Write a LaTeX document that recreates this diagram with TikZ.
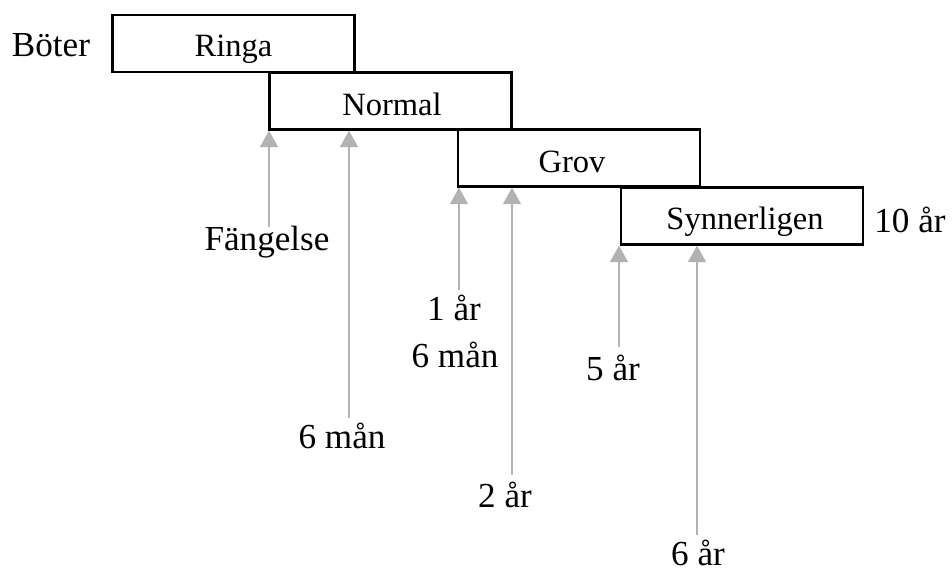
\documentclass[tikz,border=0pt]{standalone}
\usepackage{fontspec}
\setmainfont{Liberation Serif}
\usetikzlibrary{arrows.meta}
\definecolor{arrowgray}{RGB}{178,178,178}
\tikzset{
  box/.style={draw=black, line width=1.4pt, minimum width=4.84cm, minimum height=1.14cm, inner sep=0pt},
  boxtext/.style={anchor=base, inner sep=0pt, font=\fontsize{18.5pt}{21pt}\selectfont},
  lab/.style={anchor=base, inner sep=0pt, font=\fontsize{20pt}{24pt}\selectfont},
  garrow/.style={draw=arrowgray, line width=1.2pt, -{Triangle[width=0.36cm,length=0.33cm]}}
}
\begin{document}
\begin{tikzpicture}[x=0.02cm, y=-0.02cm]
\useasboundingbox (0,0) rectangle (952,571);
% boxes
\node[box] (ringa) at (233.5,43.5) {};
\node[box] (normal) at (390.5,101) {};
\node[box] (grov) at (579,158) {};
\node[box] (synn) at (742,216) {};
\node[boxtext] (tringa) at (233.5,57) {Ringa};
\node[boxtext] (tnormal) at (392,115) {Normal};
\node[boxtext] (tgrov) at (572,172) {Grov};
\node[boxtext] (tsynn) at (745,229) {Synnerligen};
% outer labels
\node[lab] (boter) at (51,57) {Böter};
\node[lab] (tioar) at (910,232) {10 år};
\node[lab] (fang) at (267,250) {Fängelse};
\node[lab] (ettar) at (454,320) {1 år};
\node[lab] (sexman1) at (455,367) {6 mån};
\node[lab] (femar) at (613,380) {5 år};
\node[lab] (sexman2) at (342,448) {6 mån};
\node[lab] (tvaar) at (505,507) {2 år};
\node[lab] (sexar) at (698,565) {6 år};
% arrow tails
\coordinate (a1) at (269,227);
\coordinate (a2) at (349,418);
\coordinate (a3) at (459,290);
\coordinate (a4) at (512,475);
\coordinate (a5) at (619,347);
\coordinate (a6) at (697,535);
\draw[garrow] (a1) -- (a1 |- normal.south);
\draw[garrow] (a2) -- (a2 |- normal.south);
\draw[garrow] (a3) -- (a3 |- grov.south);
\draw[garrow] (a4) -- (a4 |- grov.south);
\draw[garrow] (a5) -- (a5 |- synn.south);
\draw[garrow] (a6) -- (a6 |- synn.south);
\end{tikzpicture}
\end{document}
